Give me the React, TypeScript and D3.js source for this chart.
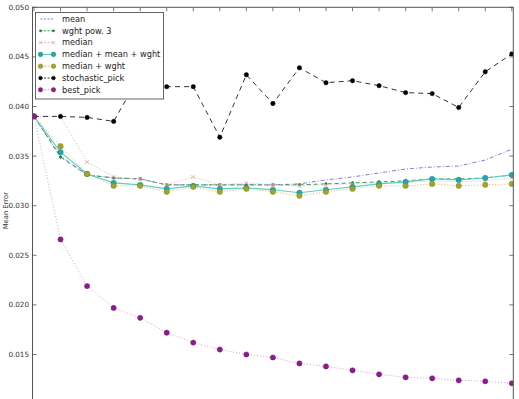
import React from "react";
import * as d3 from "d3";

const steps = d3.range(0, 19);
const meanVals = [0.0390, 0.0350, 0.0331, 0.0328, 0.0327, 0.0321, 0.0321, 0.0321, 0.0321, 0.0321, 0.0322, 0.0326, 0.0329, 0.0333, 0.0337, 0.0339, 0.0340, 0.0346, 0.0357];
const wghtPow3 = [0.0390, 0.0349, 0.0331, 0.0328, 0.0327, 0.0321, 0.0321, 0.0321, 0.0321, 0.0321, 0.0321, 0.0322, 0.0323, 0.0324, 0.0325, 0.0327, 0.0327, 0.0328, 0.0331];
const medianVals = [0.0390, 0.0390, 0.0344, 0.0329, 0.0327, 0.0321, 0.0329, 0.0321, 0.0323, 0.0321, 0.0320, 0.0321, 0.0322, 0.0323, 0.0323, 0.0325, 0.0324, 0.0325, 0.0328];
const medMeanWght = [0.0390, 0.0354, 0.0332, 0.0323, 0.0321, 0.0317, 0.0320, 0.0317, 0.0318, 0.0316, 0.0313, 0.0316, 0.0319, 0.0322, 0.0324, 0.0327, 0.0326, 0.0328, 0.0331];
const medWght = [0.0390, 0.0360, 0.0332, 0.0320, 0.0320, 0.0314, 0.0319, 0.0314, 0.0317, 0.0314, 0.0310, 0.0314, 0.0317, 0.0320, 0.0320, 0.0322, 0.0320, 0.0321, 0.0322];
const stochasticPick = [0.0390, 0.0390, 0.0389, 0.0385, 0.0432, 0.0420, 0.0420, 0.0369, 0.0432, 0.0403, 0.0439, 0.0424, 0.0426, 0.0421, 0.0414, 0.0413, 0.0399, 0.0435, 0.0453];
const bestPick = [0.0390, 0.0266, 0.0219, 0.0197, 0.0187, 0.0172, 0.0162, 0.0155, 0.0150, 0.0147, 0.0141, 0.0138, 0.0134, 0.0130, 0.0127, 0.0126, 0.0124, 0.0123, 0.0121];
const yTicks = [0.015, 0.020, 0.025, 0.030, 0.035, 0.040, 0.045, 0.050];
const yLabel = "Mean Error";

type Marker = "none" | "dot" | "circle" | "x";
interface Series {
  name: string;
  values: number[];
  lineColor: string;
  dash: string;
  lineWidth: number;
  marker: Marker;
  markerFill: string;
  markerStroke: string;
  r: number;
}

const series: Series[] = [
  { name: "mean", values: meanVals, lineColor: "#8080dc", dash: "4,2,1,2", lineWidth: 1, marker: "none", markerFill: "none", markerStroke: "none", r: 0 },
  { name: "wght pow. 3", values: wghtPow3, lineColor: "#3a9e50", dash: "4,3", lineWidth: 1, marker: "dot", markerFill: "#1f7a2e", markerStroke: "#1f7a2e", r: 1.3 },
  { name: "median", values: medianVals, lineColor: "#f4aab2", dash: "1,2", lineWidth: 1, marker: "x", markerFill: "none", markerStroke: "#f4a0aa", r: 1.9 },
  { name: "median + mean + wght", values: medMeanWght, lineColor: "#5ccfc6", dash: "", lineWidth: 1.1, marker: "circle", markerFill: "#22a8aa", markerStroke: "#1a8a8c", r: 2.7 },
  { name: "median + wght", values: medWght, lineColor: "#eeb060", dash: "1,2", lineWidth: 1, marker: "circle", markerFill: "#a0a528", markerStroke: "#7f8420", r: 2.7 },
  { name: "stochastic_pick", values: stochasticPick, lineColor: "#333333", dash: "5,4", lineWidth: 1, marker: "dot", markerFill: "#000000", markerStroke: "#000000", r: 2.2 },
  { name: "best_pick", values: bestPick, lineColor: "#e8a0c8", dash: "1,2", lineWidth: 1, marker: "circle", markerFill: "#8e1c8e", markerStroke: "#7a167a", r: 2.6 },
];

const W = 519;
const H = 399;
const left = 32.5;
const right = 513.3;
const top = 7.3;
const bottom = 404.1;

function MarkerShape({ m, cx, cy, s, k = 1 }: { m: Marker; cx: number; cy: number; s: Series; k?: number }) {
  if (m === "none") return null;
  const r = s.r * k;
  if (m === "x") {
    return (
      <g stroke={s.markerStroke} strokeWidth={0.8}>
        <line x1={cx - r} y1={cy - r} x2={cx + r} y2={cy + r} />
        <line x1={cx - r} y1={cy + r} x2={cx + r} y2={cy - r} />
      </g>
    );
  }
  return <circle cx={cx} cy={cy} r={r} fill={s.markerFill} stroke={s.markerStroke} strokeWidth={0.5} />;
}

export default function App() {
  const x = d3.scaleLinear().domain([0, 18]).range([34, 511.8]);
  const y = d3.scaleLinear().domain([0.010, 0.050]).range([bottom, top]);
  const line = (vals: number[]) =>
    d3.line<number>().x((_, i) => x(steps[i])).y((v) => y(v))(vals) || "";
  const fmt = d3.format(".3f");
  const legX = 35.5;
  const legY = 12.5;
  const legW = 128;
  const legH = 86.5;
  const rowY0 = 19;
  const rowDy = 11.8;

  return (
    <svg width={W} height={H} style={{ position: "absolute", left: 0, top: 0, background: "#fff" }} fontFamily="DejaVu Sans, sans-serif">
      <rect x={0} y={0} width={W} height={H} fill="#fff" />
      <defs>
        <clipPath id="plotclip">
          <rect x={left} y={top} width={right - left} height={bottom - top} />
        </clipPath>
      </defs>
      <g clipPath="url(#plotclip)">
        {series.map((s) => (
          <g key={s.name}>
            <path d={line(s.values)} fill="none" stroke={s.lineColor} strokeWidth={s.lineWidth} strokeDasharray={s.dash || undefined} />
            {s.values.map((v, i) => (
              <MarkerShape key={i} m={s.marker} cx={x(steps[i])} cy={y(v)} s={s} />
            ))}
          </g>
        ))}
      </g>
      <rect x={left} y={top} width={right - left} height={bottom - top} fill="none" stroke="#555" strokeWidth={1} />
      {steps.map((t) => (
        <line key={"tt" + t} x1={x(t)} x2={x(t)} y1={top} y2={top + 4} stroke="#555" strokeWidth={0.8} />
      ))}
      {yTicks.map((t) => (
        <g key={"yt" + t}>
          <line x1={left} x2={left + 4} y1={y(t)} y2={y(t)} stroke="#555" strokeWidth={0.8} />
          <line x1={right - 4} x2={right} y1={y(t)} y2={y(t)} stroke="#555" strokeWidth={0.8} />
          <text x={29} y={y(t)} dy="0.35em" textAnchor="end" fontSize={7.2} fill="#333">
            {fmt(t)}
          </text>
        </g>
      ))}
      <text transform={`translate(7.5, ${(top + bottom) / 2 + 5}) rotate(-90)`} textAnchor="middle" fontSize={6.8} fill="#333">
        {yLabel}
      </text>
      <rect x={legX} y={legY} width={legW} height={legH} fill="#fff" stroke="#555" strokeWidth={0.9} />
      {series.map((s, i) => {
        const cy = rowY0 + i * rowDy;
        return (
          <g key={"leg" + s.name}>
            <line x1={40.5} x2={53.5} y1={cy} y2={cy} stroke={s.lineColor} strokeWidth={s.lineWidth} strokeDasharray={s.dash ? "2,1.5" : undefined} />
            <MarkerShape m={s.marker} cx={40.5} cy={cy} s={s} k={0.85} />
            <MarkerShape m={s.marker} cx={53.5} cy={cy} s={s} k={0.85} />
            <text x={62} y={cy} dy="0.35em" fontSize={8.2} fill="#222">
              {s.name}
            </text>
          </g>
        );
      })}
    </svg>
  );
}
